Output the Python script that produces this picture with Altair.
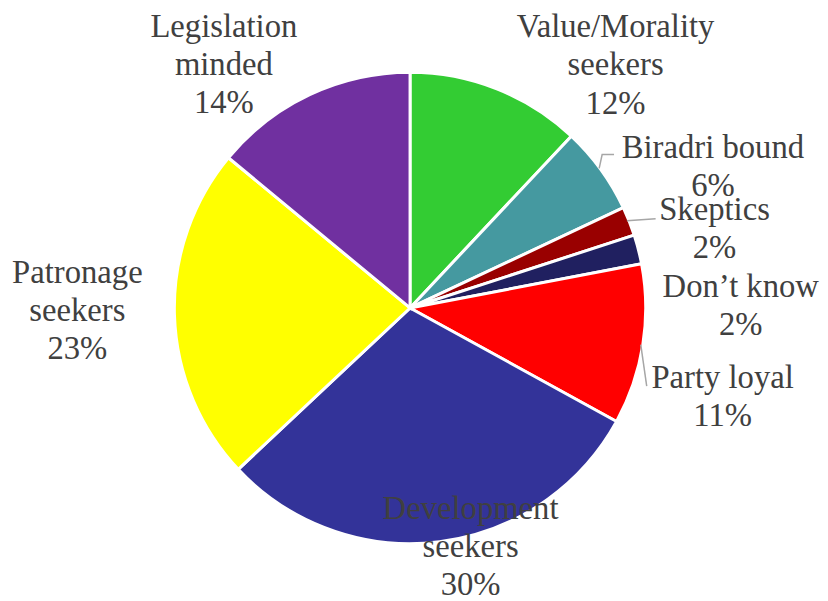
import math
import altair as alt
import pandas as pd

# ---- data ----
categories = ["Value/Morality seekers", "Biradri bound", "Skeptics", "Don’t know",
              "Party loyal", "Development seekers", "Patronage seekers", "Legislation minded"]
label_lines = ["Value/Morality\nseekers", "Biradri bound", "Skeptics", "Don’t know",
               "Party loyal", "Development\nseekers", "Patronage\nseekers", "Legislation\nminded"]
shares = [12, 6, 2, 2, 11, 30, 23, 14]
colors = ["#33CC33", "#4599A0", "#990000", "#202060", "#FF0000", "#333399", "#FFFF00", "#7030A0"]

# ---- layout (not data) ----
CX, CY, R = 406, 300, 238      # pie centre / radius (px)
LX, LY = 407, 297              # origin used for label / leader placement (px)
LH = 38.5
label_radius = [318, 335, 316, 333, 328, 252, 337, 307]
label_nudge = [18.9, 11.5, 7.5, 14.6, 7.4, -6.6, 0.8, -12.8]
leaders = {  # offsets from the label origin, in px
    "Biradri bound": [(190, -138), (193, -152), (205, -152)],
    "Skeptics": [(218, -85), (247, -87)],
    "Party loyal": [(232, 40), (238, 82)],
}

total = sum(shares)
pie = pd.DataFrame({"cat": categories, "share": shares, "idx": list(range(len(shares)))})

rows = []
cum = 0
for i, (c, t, v) in enumerate(zip(categories, label_lines, shares)):
    mid = (cum + v / 2) / total * 360
    cum += v
    a = math.radians(mid + label_nudge[i])
    full = t + "\n" + f"{v}%"
    n = full.count("\n") + 1
    rows.append({"text": full,
                 "x": LX + label_radius[i] * math.sin(a),
                 "y": LY - label_radius[i] * math.cos(a) - (n - 1) / 2 * LH})
labels = pd.DataFrame(rows)

lrows = []
for name, pts in leaders.items():
    for k, (dx, dy) in enumerate(pts):
        lrows.append({"name": name, "k": k, "x": LX + dx, "y": LY + dy})
lead = pd.DataFrame(lrows)

arcs = alt.Chart(pie).mark_arc(radius=R, stroke="white", strokeWidth=3).encode(
    theta=alt.Theta("share:Q", stack=True),
    order=alt.Order("idx:Q"),
    color=alt.Color("cat:N", scale=alt.Scale(domain=categories, range=colors), legend=None),
    x=alt.value(CX), y=alt.value(CY),
)

text = alt.Chart(labels).mark_text(
    font="Liberation Serif", fontSize=33, color="#404040", lineHeight=LH,
    align="center", baseline="middle", lineBreak="\n",
).encode(
    x=alt.X("x:Q", scale=None), y=alt.Y("y:Q", scale=None), text="text:N"
)

lines = alt.Chart(lead).mark_line(color="#A6A6A6", strokeWidth=1.5).encode(
    x=alt.X("x:Q", scale=None), y=alt.Y("y:Q", scale=None),
    detail="name:N", order="k:Q",
)

chart = alt.layer(arcs, lines, text).properties(
    width=820, height=593, padding=0, background="white",
    autosize=alt.AutoSizeParams(type="none"),
).configure_view(stroke=None)

chart.save("out.html", embed_options={"renderer": "svg", "actions": False})
